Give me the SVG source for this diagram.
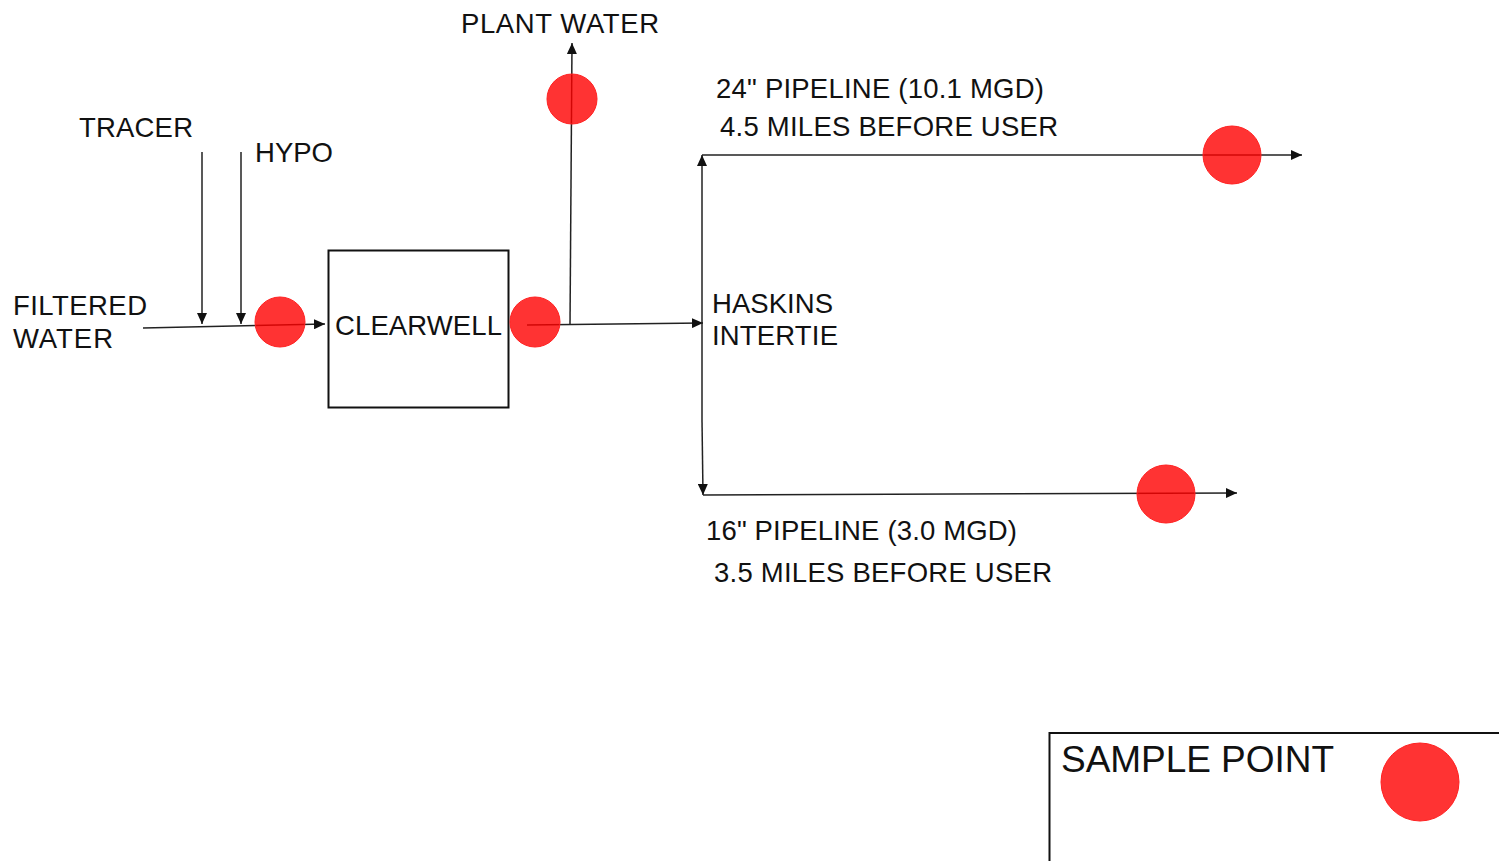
<svg xmlns="http://www.w3.org/2000/svg" width="1499" height="861" viewBox="0 0 1499 861">
<defs>
<style>
text{font-family:"Liberation Sans",Arial,sans-serif;font-size:27.5px;fill:#111}
.ln{stroke:#222;stroke-width:1.5;fill:none}
.sp{fill:#ff0000;fill-opacity:0.8;stroke:#ff2020;stroke-width:1}
</style>
<marker id="ah" markerUnits="userSpaceOnUse" markerWidth="12" markerHeight="10" refX="11" refY="5" orient="auto">
<path d="M0,0 L11,5 L0,10 Z" fill="#111"/>
</marker>
</defs>
<rect width="1499" height="861" fill="#fff"/>
<g id="connectors">
<path class="ln" d="M143,328 L325,324" marker-end="url(#ah)"/>
<path class="ln" d="M202,152 L202,324" marker-end="url(#ah)"/>
<path class="ln" d="M241,152 L241,324" marker-end="url(#ah)"/>
<path class="ln" d="M527,325 L703,323" marker-end="url(#ah)"/>
<path class="ln" d="M570,325 L572,43" marker-end="url(#ah)"/>
<path class="ln" d="M702,420 L702,155" marker-end="url(#ah)"/>
<path class="ln" d="M702,420 L703,495" marker-end="url(#ah)"/>
<path class="ln" d="M702,155 L1302,155" marker-end="url(#ah)"/>
<path class="ln" d="M703,495 L1237,493" marker-end="url(#ah)"/>
</g>
<g id="tracer"><text x="79" y="137" textLength="114">TRACER</text></g>
<g id="hypo"><text x="255" y="162" textLength="78">HYPO</text></g>
<g id="filtered-water"><text x="13" y="315" textLength="134">FILTERED</text><text x="13" y="348" textLength="100">WATER</text></g>
<g id="clearwell"><rect x="328.5" y="250.5" width="180" height="157" fill="none" stroke="#111" stroke-width="2"/><text x="335" y="335" textLength="167">CLEARWELL</text></g>
<g id="plant-water"><text x="461" y="33" textLength="198">PLANT WATER</text></g>
<g id="pipeline-24"><text x="716" y="98" textLength="328">24" PIPELINE (10.1 MGD)</text><text x="720" y="136" textLength="338">4.5 MILES BEFORE USER</text></g>
<g id="haskins"><text x="712" y="313" textLength="121">HASKINS</text><text x="712" y="345" textLength="126">INTERTIE</text></g>
<g id="pipeline-16"><text x="706" y="540" textLength="311">16" PIPELINE (3.0 MGD)</text><text x="714" y="582" textLength="338">3.5 MILES BEFORE USER</text></g>
<g id="sample-points">
<circle class="sp" cx="280" cy="322" r="25"/>
<circle class="sp" cx="535" cy="322" r="25"/>
<circle class="sp" cx="572" cy="99" r="25"/>
<circle class="sp" cx="1232" cy="155" r="29"/>
<circle class="sp" cx="1166" cy="494" r="29"/>
</g>
<g id="legend">
<path d="M1049.5,861 L1049.5,733 L1499,733" fill="none" stroke="#111" stroke-width="2"/>
<text x="1061" y="772" style="font-size:37px" textLength="273">SAMPLE POINT</text>
<circle class="sp" cx="1420" cy="782" r="39"/>
</g>
</svg>
